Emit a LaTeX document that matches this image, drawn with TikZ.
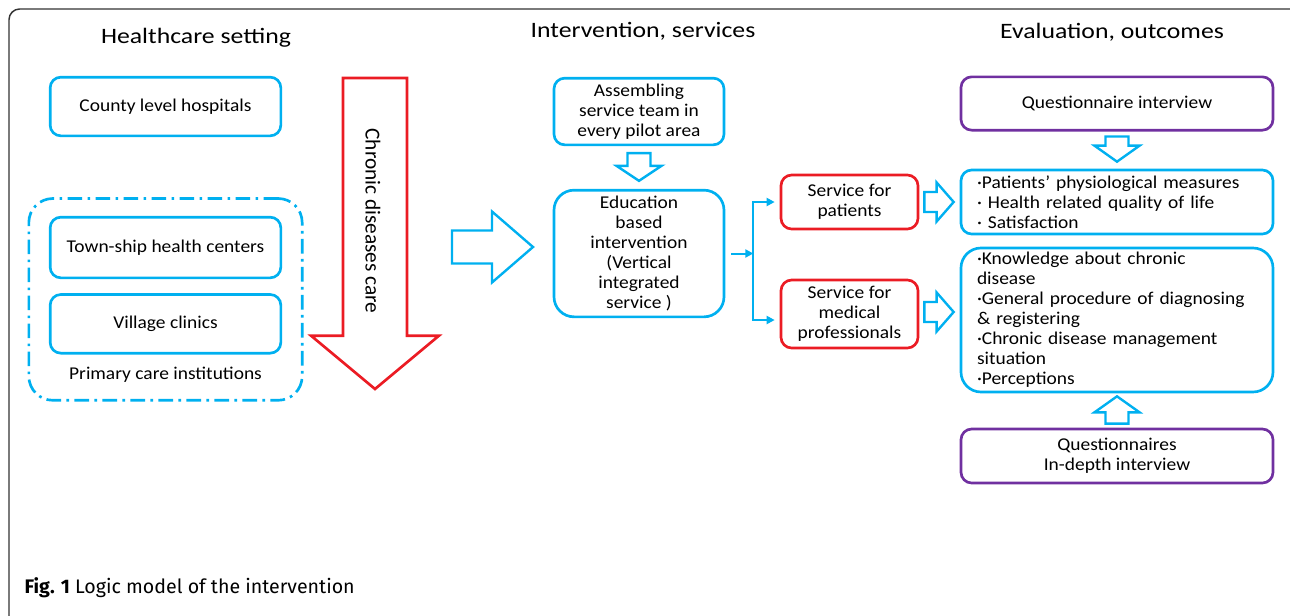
\documentclass[tikz,border=0pt]{standalone}
\usepackage{fontspec}
\usetikzlibrary{positioning,calc,fit,arrows.meta}
\setmainfont{Carlito}
\newfontfamily\boxfont{Carlito}[FakeStretch=1.08]
\newfontfamily\headfont{Carlito}[FakeStretch=1.17]
\newfontfamily\capfont{Fira Sans}
\definecolor{skyblue}{RGB}{0,176,240}
\definecolor{alertred}{RGB}{235,28,36}
\definecolor{evalpurple}{RGB}{112,48,160}

% hollow block arrow: style, from, to, shaft half width, head half width, head length
\newcommand{\blockarrow}[6]{%
  \coordinate (ba-h) at ($(#3)!#6!(#2)$);
  \draw[#1] ($(#2)!#4!90:(#3)$) -- ($(ba-h)!#4!90:(#3)$) -- ($(ba-h)!#5!90:(#3)$) -- (#3)
    -- ($(ba-h)!#5!-90:(#3)$) -- ($(ba-h)!#4!-90:(#3)$) -- ($(#2)!#4!-90:(#3)$) -- cycle;}

\begin{document}
\begin{tikzpicture}[x=0.75pt,y=-0.75pt,
  box/.style={rounded corners=8pt,line width=2pt,align=center,inner sep=2pt,font=\boxfont\fontsize{13.5}{15}\selectfont},
  blue box/.style={box,draw=skyblue},
  red box/.style={box,draw=alertred},
  purple box/.style={box,draw=evalpurple},
  list box/.style={blue box,align=left,text width=210pt,inner xsep=12pt},
  head/.style={font=\headfont\fontsize{16.5}{18}\selectfont},
  hollow/.style={draw=skyblue,line width=1.8pt,line join=miter},
  flow/.style={draw=skyblue,line width=1.5pt,-{Triangle[length=6pt,width=6pt]}}]

\useasboundingbox (0,0) rectangle (1290,615);
\begin{scope}
  \clip (0,0) rectangle (1290,615);
  \draw[black!80,line width=1.1pt,rounded corners=8pt] (9,9) rectangle (1310,640);
\end{scope}

% column heads
\node[head] (headset) at (196,38) {Healthcare setting};
\node[head] (headint) at (643,31) {Intervention, services};
\node[head] (headeval) at (1112,32) {Evaluation, outcomes};

% healthcare setting
\node[blue box,minimum width=173pt,minimum height=44pt] (county) at (165.5,106.5) {County level hospitals};
\node[blue box,minimum width=173pt,minimum height=45.5pt] (town) at (165.5,247.5) {Town-ship health centers};
\node[blue box,minimum width=173pt,minimum height=44pt,below=10.5pt of town] (village) {Village clinics};
\node[inner sep=0pt,font=\boxfont\fontsize{13.5}{15}\selectfont] (primary) at (165.5,375) {Primary care institutions};
\node[fit=(town)(village)(primary),draw=skyblue,line width=2pt,dash pattern=on 11pt off 4pt on 2pt off 4pt,
  rounded corners=18pt,inner xsep=15pt,inner ysep=13pt] (primcare) {};

\coordinate (care top) at (375,78);
\coordinate (care tip) at (375,389);
\blockarrow{draw=alertred,line width=2pt,line join=miter}{care top}{care tip}{24pt}{48pt}{40pt}
\node[rotate=-90,font=\fontsize{16}{18}\selectfont] (caretext) at (373,221) {Chronic diseases care};

% intervention, services
\coordinate (feed start) at (452,247);
\coordinate (feed tip) at (533,247);
\blockarrow{hollow}{feed start}{feed tip}{12.4pt}{26.6pt}{30.75pt}

\node[blue box,minimum width=127.5pt,minimum height=50pt] (assemble) at (639,111.5) {Assembling\\service team in\\every pilot area};
\node[blue box,rounded corners=15pt,minimum width=127.5pt,minimum height=95pt] (edu) at (639,253.5)
  {Education\\based\\intervention\\(Vertical\\integrated\\service )};
\coordinate (team out) at ($(assemble.south)+(0,7)$);
\coordinate (edu in) at ($(edu.north)+(0,-8)$);
\blockarrow{hollow}{team out}{edu in}{8.6pt}{16.9pt}{11.25pt}

\node[red box,minimum width=102.75pt,minimum height=40.5pt] (patients) at (849.5,202) {Service for\\patients};
\node[red box,minimum width=102.75pt,minimum height=51pt] (medical) at (849.5,314) {Service for\\medical\\professionals};

\coordinate (split) at ($(edu.east)+(28,0)$);
\draw[flow] ($(edu.east)+(6,0)$) -- (split);
\draw[flow,shorten >=3.75pt] (split) |- (patients.west);
\draw[flow,shorten >=3.75pt] (split) |- ($(medical.west)+(0,6)$);

% evaluation, outcomes
\node[purple box,minimum width=234pt,minimum height=40pt] (qinterview) at (1117,103.5) {Questionnaire interview};
\node[list box,minimum height=48pt] (physio) at (1117,202)
  {·Patients’ physiological measures\\· Health related quality of life\\· Satisfaction};
\node[list box,rounded corners=15pt,minimum height=108pt] (knowledge) at (1117,320)
  {·Knowledge about chronic\\disease\\·General procedure of diagnosing\\\& registering\\·Chronic disease management\\situation\\·Perceptions};
\node[purple box,minimum width=234pt,minimum height=40.5pt] (qdepth) at (1117,456) {Questionnaires\\In-depth interview};

\coordinate (q out) at ($(qinterview.south)+(0,5)$);
\coordinate (physio in) at ($(physio.north)+(0,-7)$);
\blockarrow{hollow}{q out}{physio in}{8.6pt}{16.9pt}{12pt}
\coordinate (qd out) at ($(qdepth.north)+(0,-4)$);
\coordinate (know in) at ($(knowledge.south)+(0,3)$);
\blockarrow{hollow}{qd out}{know in}{8.6pt}{16.9pt}{12pt}

\coordinate (pat out) at ($(patients.east)+(5,0)$);
\coordinate (physio side) at ($(physio.west)+(-6,0)$);
\blockarrow{hollow}{pat out}{physio side}{7.5pt}{14.6pt}{12.75pt}
\coordinate (med out) at ($(medical.east)+(5,-2)$);
\coordinate (know side) at ($(med out -| knowledge.west)+(-6,0)$);
\blockarrow{hollow}{med out}{know side}{7.5pt}{14.6pt}{12.75pt}

\node[anchor=west,font=\capfont\fontsize{14.7}{17}\selectfont] (caption) at (20,588) {\textbf{Fig. 1} Logic model of the intervention};
\end{tikzpicture}
\end{document}
